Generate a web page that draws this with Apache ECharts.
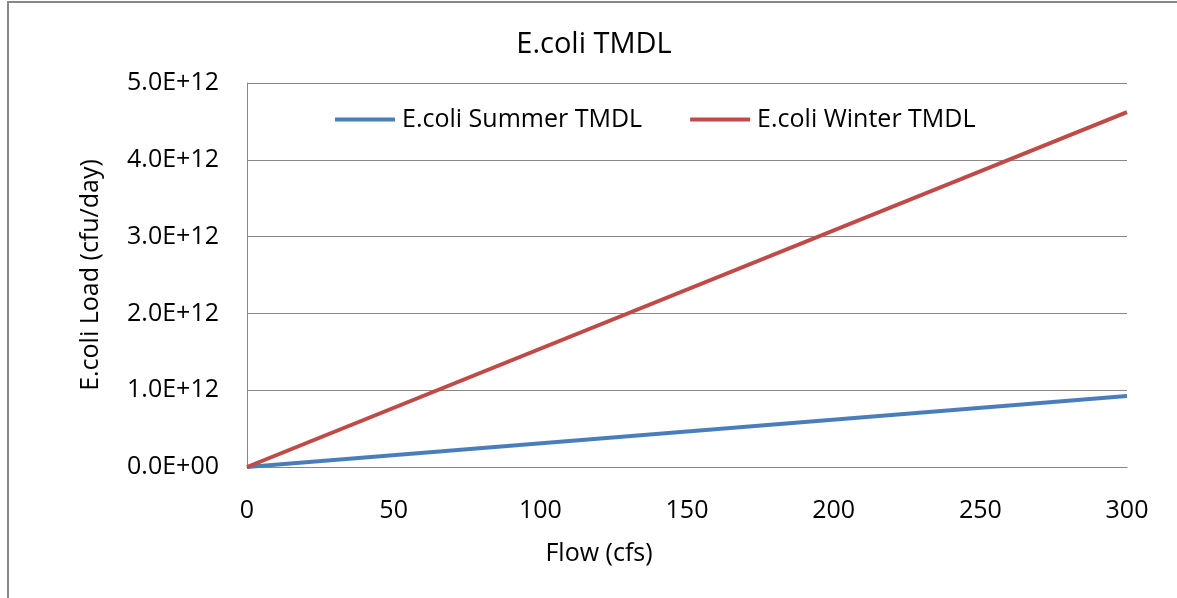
<!DOCTYPE html>
<html>
<head>
<meta charset="utf-8">
<script src="https://cdn.jsdelivr.net/npm/echarts@6/dist/echarts.min.js"></script>
<style>
  html, body { margin: 0; padding: 0; background: #fff; }
  #chart { width: 1177px; height: 598px; }
</style>
</head>
<body>
<div id="chart"></div>
<script>
// flow in cfs, loads in cfu/day
const flow = [0, 300]
const summerLoad = [0, 9.25e11]
const winterLoad = [0, 4.62e12]
const seriesNames = ['E.coli Summer TMDL', 'E.coli Winter TMDL']

const font = '"Open Sans", "Noto Sans", sans-serif'

function sci(v) {
  const parts = v.toExponential(1).toUpperCase().split('E')
  const sign = parts[1][0]
  let exp = parts[1].slice(1)
  if (exp.length < 2) exp = '0' + exp
  return parts[0] + 'E' + sign + exp
}

const chart = echarts.init(document.getElementById('chart'))
chart.setOption({
  animation: false,
  backgroundColor: '#fff',
  textStyle: { fontFamily: font },
  graphic: [{
    type: 'rect',
    shape: { x: 8, y: 2, width: 1200, height: 700 },
    style: { fill: 'none', stroke: '#888', lineWidth: 2 }
  }],
  title: {
    text: 'E.coli TMDL',
    left: 589,
    top: 25,
    textAlign: 'center',
    textStyle: { fontFamily: font, fontSize: 29, fontWeight: 'normal', color: '#000' }
  },
  legend: {
    data: seriesNames,
    top: 102,
    left: 330,
    itemWidth: 60,
    itemHeight: 4,
    itemGap: 48,
    icon: 'rect',
    textStyle: { fontFamily: font, fontSize: 25, color: '#000', padding: [0, 0, 0, 2] }
  },
  grid: { left: 247, right: 50, top: 83, bottom: 131 },
  xAxis: {
    type: 'value',
    min: 0, max: 300, interval: 50,
    name: 'Flow (cfs)',
    nameLocation: 'middle',
    nameGap: 74,
    nameTextStyle: { fontFamily: font, fontSize: 25, color: '#000', padding: [0, 176, 0, 0] },
    axisLine: { lineStyle: { color: '#888', width: 1 } },
    axisTick: { show: false },
    axisLabel: { fontFamily: font, fontSize: 25, color: '#000', margin: 31 },
    splitLine: { show: false }
  },
  yAxis: {
    type: 'value',
    min: 0, max: 5e12, interval: 1e12,
    name: 'E.coli Load (cfu/day)',
    nameLocation: 'middle',
    nameGap: 144,
    nameTextStyle: { fontFamily: font, fontSize: 25, color: '#000' },
    axisLine: { show: true, lineStyle: { color: '#888', width: 1 } },
    axisTick: { show: false },
    axisLabel: { fontFamily: font, fontSize: 25, color: '#000', margin: 28, formatter: sci },
    splitLine: { lineStyle: { color: '#888', width: 1 } }
  },
  series: [
    {
      name: seriesNames[0],
      type: 'line',
      data: flow.map((f, i) => [f, summerLoad[i]]),
      showSymbol: false,
      itemStyle: { color: '#4A7EBB' },
      lineStyle: { color: '#4A7EBB', width: 4 }
    },
    {
      name: seriesNames[1],
      type: 'line',
      data: flow.map((f, i) => [f, winterLoad[i]]),
      showSymbol: false,
      itemStyle: { color: '#BE4B48' },
      lineStyle: { color: '#BE4B48', width: 4 }
    }
  ]
})
</script>
</body>
</html>
